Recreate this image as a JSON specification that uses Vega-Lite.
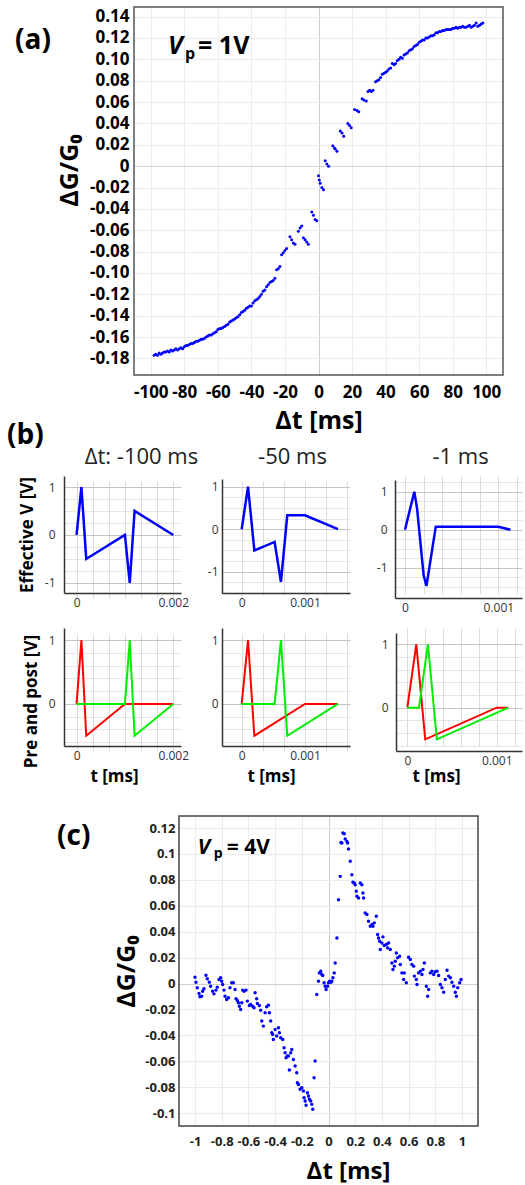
{
  "$schema": "https://vega.github.io/schema/vega-lite/v6.json",
  "autosize": {"type": "none"},
  "padding": {"left": 0, "top": 7, "right": 525, "bottom": 1178},
  "background": "white",
  "config": {
    "view": {"stroke": null},
    "font": "Open Sans",
    "axis": {"labelFont": "Open Sans", "titleFont": "Open Sans", "labelFlush": false, "labelOverlap": false, "ticks": false, "tickSize": 0}
  },
  "datasets": {
    "a": [
      {"t":-98,"g":-0.177},{"t":-97,"g":-0.176},{"t":-96,"g":-0.177},{"t":-95,"g":-0.175},{"t":-94,"g":-0.176},{"t":-93,"g":-0.175},{"t":-92,"g":-0.174},{"t":-91,"g":-0.174},{"t":-90,"g":-0.173},{"t":-89,"g":-0.174},
      {"t":-88,"g":-0.172},{"t":-87,"g":-0.173},{"t":-86,"g":-0.172},{"t":-85,"g":-0.171},{"t":-84,"g":-0.172},{"t":-83,"g":-0.171},{"t":-82,"g":-0.170},{"t":-81,"g":-0.171},{"t":-80,"g":-0.169},{"t":-79,"g":-0.168},
      {"t":-78,"g":-0.168},{"t":-77,"g":-0.167},{"t":-76,"g":-0.166},{"t":-75,"g":-0.166},{"t":-74,"g":-0.165},{"t":-73,"g":-0.164},{"t":-72,"g":-0.164},{"t":-71,"g":-0.163},{"t":-70,"g":-0.162},{"t":-69,"g":-0.162},
      {"t":-68,"g":-0.161},{"t":-67,"g":-0.160},{"t":-66,"g":-0.159},{"t":-65,"g":-0.158},{"t":-64,"g":-0.158},{"t":-63,"g":-0.157},{"t":-62,"g":-0.156},{"t":-61,"g":-0.155},{"t":-60,"g":-0.153},{"t":-59,"g":-0.152},
      {"t":-58,"g":-0.152},{"t":-57,"g":-0.151},{"t":-56,"g":-0.150},{"t":-55,"g":-0.149},{"t":-54,"g":-0.148},{"t":-53,"g":-0.146},{"t":-52,"g":-0.145},{"t":-51,"g":-0.144},{"t":-50,"g":-0.143},{"t":-49,"g":-0.142},
      {"t":-48,"g":-0.141},{"t":-47,"g":-0.139},{"t":-46,"g":-0.137},{"t":-45,"g":-0.136},{"t":-44,"g":-0.135},{"t":-43,"g":-0.133},{"t":-42,"g":-0.132},{"t":-41,"g":-0.131},{"t":-40,"g":-0.131},{"t":-39,"g":-0.128},
      {"t":-38,"g":-0.126},{"t":-37,"g":-0.125},{"t":-36,"g":-0.124},{"t":-35,"g":-0.122},{"t":-34,"g":-0.120},{"t":-33,"g":-0.117},{"t":-32,"g":-0.116},{"t":-31,"g":-0.113},{"t":-30,"g":-0.111},{"t":-29,"g":-0.109},
      {"t":-28,"g":-0.108},{"t":-27,"g":-0.107},{"t":-26,"g":-0.105},{"t":-25,"g":-0.097},{"t":-24,"g":-0.096},{"t":-23,"g":-0.094},{"t":-22,"g":-0.083},{"t":-21,"g":-0.081},{"t":-20,"g":-0.079},{"t":-19,"g":-0.077},
      {"t":-17,"g":-0.066},{"t":-16,"g":-0.069},{"t":-15,"g":-0.072},{"t":-14,"g":-0.073},{"t":-12,"g":-0.061},{"t":-11,"g":-0.058},{"t":-10,"g":-0.056},{"t":-9,"g":-0.067},{"t":-8,"g":-0.069},{"t":-7,"g":-0.071},
      {"t":-6,"g":-0.073},{"t":-4,"g":-0.043},{"t":-3,"g":-0.046},{"t":-2,"g":-0.050},{"t":-1,"g":-0.051},{"t":0,"g":-0.009},{"t":0.5,"g":-0.013},{"t":1,"g":-0.016},{"t":2,"g":-0.020},{"t":3,"g":-0.022},
      {"t":4,"g":0.005},{"t":5,"g":0.002},{"t":6,"g":0.000},{"t":8.5,"g":0.019},{"t":9.5,"g":0.017},{"t":10,"g":0.016},{"t":11,"g":0.014},{"t":13,"g":0.033},{"t":14,"g":0.031},{"t":15,"g":0.028},
      {"t":17.5,"g":0.040},{"t":18.5,"g":0.038},{"t":19.5,"g":0.036},{"t":21.5,"g":0.053},{"t":23,"g":0.052},{"t":24,"g":0.051},{"t":26,"g":0.063},{"t":27,"g":0.062},{"t":28.5,"g":0.061},{"t":29.5,"g":0.070},
      {"t":30.5,"g":0.071},{"t":31.5,"g":0.070},{"t":32.5,"g":0.071},{"t":34,"g":0.079},{"t":35,"g":0.080},{"t":36,"g":0.081},{"t":37,"g":0.083},{"t":38,"g":0.086},{"t":39,"g":0.087},{"t":40,"g":0.088},
      {"t":41,"g":0.089},{"t":42,"g":0.091},{"t":43,"g":0.092},{"t":44,"g":0.096},{"t":45,"g":0.095},{"t":46,"g":0.096},{"t":47,"g":0.099},{"t":48,"g":0.100},{"t":49,"g":0.102},{"t":50,"g":0.101},
      {"t":51,"g":0.104},{"t":52,"g":0.105},{"t":53,"g":0.106},{"t":54,"g":0.108},{"t":55,"g":0.109},{"t":56,"g":0.110},{"t":57,"g":0.112},{"t":58,"g":0.113},{"t":59,"g":0.114},{"t":60,"g":0.116},
      {"t":61,"g":0.117},{"t":62,"g":0.118},{"t":63,"g":0.118},{"t":64,"g":0.120},{"t":65,"g":0.120},{"t":66,"g":0.121},{"t":67,"g":0.122},{"t":68,"g":0.122},{"t":69,"g":0.123},{"t":70,"g":0.125},
      {"t":71,"g":0.125},{"t":72,"g":0.126},{"t":73,"g":0.126},{"t":74,"g":0.127},{"t":75,"g":0.127},{"t":76,"g":0.128},{"t":77,"g":0.128},{"t":78,"g":0.128},{"t":79,"g":0.128},{"t":80,"g":0.129},
      {"t":81,"g":0.129},{"t":82,"g":0.130},{"t":83,"g":0.129},{"t":84,"g":0.130},{"t":85,"g":0.130},{"t":86,"g":0.131},{"t":87,"g":0.130},{"t":88,"g":0.130},{"t":89,"g":0.131},{"t":90,"g":0.132},
      {"t":91,"g":0.130},{"t":92,"g":0.131},{"t":93,"g":0.132},{"t":94,"g":0.134},{"t":95,"g":0.131},{"t":96,"g":0.132},{"t":97,"g":0.133},{"t":98,"g":0.134}
    ],
    "c": [
      {"t":-1.0,"g":0.0049},{"t":-0.993,"g":0.001},{"t":-0.983,"g":-0.0033},{"t":-0.970,"g":-0.0077},{"t":-0.963,"g":-0.0103},{"t":-0.950,"g":-0.0098},{"t":-0.943,"g":-0.0059},{"t":-0.933,"g":-0.0041},{"t":-0.918,"g":0.0064},{"t":-0.908,"g":0.0036},
      {"t":-0.893,"g":0.001},{"t":-0.883,"g":-0.0021},{"t":-0.868,"g":-0.0059},{"t":-0.858,"g":-0.008},{"t":-0.843,"g":-0.0051},{"t":-0.833,"g":-0.0028},{"t":-0.820,"g":0.0031},{"t":-0.808,"g":0.0044},{"t":-0.800,"g":0.0018},{"t":-0.793,"g":-0.0008},
      {"t":-0.783,"g":-0.0051},{"t":-0.775,"g":-0.0098},{"t":-0.763,"g":-0.0123},{"t":-0.750,"g":-0.011},{"t":-0.738,"g":-0.0033},{"t":-0.725,"g":0.0005},{"t":-0.713,"g":0.0005},{"t":-0.700,"g":-0.0046},{"t":-0.693,"g":-0.0118},{"t":-0.683,"g":-0.0131},
      {"t":-0.675,"g":-0.0149},{"t":-0.668,"g":-0.0175},{"t":-0.658,"g":-0.02},{"t":-0.650,"g":-0.0149},{"t":-0.643,"g":-0.0051},{"t":-0.633,"g":-0.0059},{"t":-0.618,"g":-0.0051},{"t":-0.608,"g":-0.0136},{"t":-0.593,"g":-0.017},{"t":-0.583,"g":-0.0162},
      {"t":-0.568,"g":-0.0175},{"t":-0.558,"g":-0.0188},{"t":-0.550,"g":-0.0072},{"t":-0.538,"g":-0.0118},{"t":-0.533,"g":-0.0154},{"t":-0.518,"g":-0.017},{"t":-0.508,"g":-0.0206},{"t":-0.500,"g":-0.029},{"t":-0.488,"g":-0.0329},{"t":-0.475,"g":-0.0226},
      {"t":-0.463,"g":-0.018},{"t":-0.450,"g":-0.0167},{"t":-0.443,"g":-0.0226},{"t":-0.433,"g":-0.029},{"t":-0.425,"g":-0.038},{"t":-0.418,"g":-0.0393},{"t":-0.413,"g":-0.0432},{"t":-0.400,"g":-0.0355},{"t":-0.388,"g":-0.0406},{"t":-0.375,"g":-0.0342},
      {"t":-0.368,"g":-0.038},{"t":-0.358,"g":-0.0419},{"t":-0.343,"g":-0.0432},{"t":-0.333,"g":-0.0496},{"t":-0.325,"g":-0.0534},{"t":-0.318,"g":-0.0573},{"t":-0.308,"g":-0.056},{"t":-0.300,"g":-0.056},{"t":-0.293,"g":-0.0668},{"t":-0.283,"g":-0.0534},
      {"t":-0.275,"g":-0.0509},{"t":-0.263,"g":-0.0586},{"t":-0.250,"g":-0.0637},{"t":-0.238,"g":-0.0689},{"t":-0.233,"g":-0.0766},{"t":-0.225,"g":-0.0779},{"t":-0.213,"g":-0.0817},{"t":-0.200,"g":-0.0804},{"t":-0.188,"g":-0.083},{"t":-0.183,"g":-0.0881},
      {"t":-0.175,"g":-0.0907},{"t":-0.168,"g":-0.094},{"t":-0.158,"g":-0.0843},{"t":-0.150,"g":-0.0868},{"t":-0.143,"g":-0.0894},{"t":-0.133,"g":-0.0907},{"t":-0.125,"g":-0.0933},{"t":-0.118,"g":-0.0971},{"t":-0.108,"g":-0.0727},{"t":-0.100,"g":-0.0599},
      {"t":-0.088,"g":-0.0085},{"t":-0.075,"g":0.0018},{"t":-0.068,"g":0.0082},{"t":-0.058,"g":0.0095},{"t":-0.050,"g":0.0069},{"t":-0.043,"g":0.0062},{"t":-0.033,"g":0.0005},{"t":-0.025,"g":-0.0021},{"t":-0.018,"g":-0.0046},{"t":-0.008,"g":-0.0021},
      {"t":0.0,"g":0.0005},{"t":0.008,"g":0.0018},{"t":0.018,"g":0.001},{"t":0.025,"g":0.0018},{"t":0.033,"g":0.0044},{"t":0.043,"g":0.0082},{"t":0.050,"g":0.0159},{"t":0.063,"g":0.0352},{"t":0.075,"g":0.0647},{"t":0.088,"g":0.0827},
      {"t":0.093,"g":0.1089},{"t":0.100,"g":0.1084},{"t":0.108,"g":0.1161},{"t":0.118,"g":0.1156},{"t":0.125,"g":0.1115},{"t":0.138,"g":0.1097},{"t":0.143,"g":0.1084},{"t":0.150,"g":0.1038},{"t":0.163,"g":0.0943},{"t":0.175,"g":0.084},
      {"t":0.183,"g":0.0781},{"t":0.193,"g":0.0776},{"t":0.200,"g":0.0763},{"t":0.208,"g":0.0712},{"t":0.213,"g":0.0673},{"t":0.225,"g":0.066},{"t":0.238,"g":0.0776},{"t":0.250,"g":0.0763},{"t":0.258,"g":0.0699},{"t":0.263,"g":0.066},
      {"t":0.275,"g":0.0545},{"t":0.288,"g":0.0532},{"t":0.300,"g":0.048},{"t":0.313,"g":0.0442},{"t":0.325,"g":0.0455},{"t":0.333,"g":0.0442},{"t":0.343,"g":0.0468},{"t":0.358,"g":0.0519},{"t":0.368,"g":0.0378},{"t":0.375,"g":0.0352},
      {"t":0.383,"g":0.0326},{"t":0.388,"g":0.0262},{"t":0.400,"g":0.0313},{"t":0.408,"g":0.036},{"t":0.418,"g":0.0293},{"t":0.433,"g":0.0301},{"t":0.443,"g":0.0275},{"t":0.450,"g":0.0313},{"t":0.463,"g":0.0262},{"t":0.475,"g":0.0159},
      {"t":0.483,"g":0.0108},{"t":0.493,"g":0.0134},{"t":0.500,"g":0.0172},{"t":0.508,"g":0.0236},{"t":0.518,"g":0.0198},{"t":0.533,"g":0.0211},{"t":0.538,"g":0.0146},{"t":0.550,"g":0.0082},{"t":0.563,"g":0.0031},{"t":0.568,"g":0.0082},
      {"t":0.583,"g":0.0005},{"t":0.600,"g":0.0203},{"t":0.613,"g":0.0185},{"t":0.625,"g":0.0146},{"t":0.638,"g":0.0134},{"t":0.643,"g":0.0057},{"t":0.658,"g":0.0031},{"t":0.663,"g":-0.0008},{"t":0.675,"g":0.0082},{"t":0.688,"g":0.0095},
      {"t":0.700,"g":0.0069},{"t":0.708,"g":0.0108},{"t":0.718,"g":0.0159},{"t":0.733,"g":-0.0021},{"t":0.743,"g":-0.0098},{"t":0.750,"g":-0.0046},{"t":0.763,"g":0.0082},{"t":0.775,"g":0.0095},{"t":0.788,"g":0.0069},{"t":0.800,"g":0.009},
      {"t":0.813,"g":0.0095},{"t":0.825,"g":0.0062},{"t":0.838,"g":-0.0008},{"t":0.850,"g":-0.0033},{"t":0.863,"g":-0.0067},{"t":0.875,"g":0.0031},{"t":0.888,"g":0.0103},{"t":0.900,"g":0.0057},{"t":0.913,"g":0.0044},{"t":0.925,"g":0.001},
      {"t":0.938,"g":-0.0021},{"t":0.950,"g":-0.0067},{"t":0.958,"g":-0.0098},{"t":0.968,"g":-0.0033},{"t":0.983,"g":0.0005},{"t":0.993,"g":0.0031}
    ],
    "pulses": [
      {"p":"P100","s":"pre","t":0,"v":0},{"p":"P100","s":"pre","t":0.0001,"v":1},{"p":"P100","s":"pre","t":0.0002,"v":-0.5},{"p":"P100","s":"pre","t":0.001,"v":0},{"p":"P100","s":"pre","t":0.002,"v":0},
      {"p":"P100","s":"post","t":0,"v":0},{"p":"P100","s":"post","t":0.001,"v":0},{"p":"P100","s":"post","t":0.0011,"v":1},{"p":"P100","s":"post","t":0.0012,"v":-0.5},{"p":"P100","s":"post","t":0.002,"v":0},
      {"p":"P100","s":"eff","t":0,"v":0},{"p":"P100","s":"eff","t":0.0001,"v":1},{"p":"P100","s":"eff","t":0.0002,"v":-0.5},{"p":"P100","s":"eff","t":0.001,"v":0},{"p":"P100","s":"eff","t":0.0011,"v":-1},{"p":"P100","s":"eff","t":0.0012,"v":0.5},{"p":"P100","s":"eff","t":0.002,"v":0},
      {"p":"P50","s":"pre","t":0,"v":0},{"p":"P50","s":"pre","t":0.0001,"v":1},{"p":"P50","s":"pre","t":0.0002,"v":-0.5},{"p":"P50","s":"pre","t":0.001,"v":0},{"p":"P50","s":"pre","t":0.00152,"v":0},
      {"p":"P50","s":"post","t":0,"v":0},{"p":"P50","s":"post","t":0.00052,"v":0},{"p":"P50","s":"post","t":0.00062,"v":1},{"p":"P50","s":"post","t":0.00072,"v":-0.5},{"p":"P50","s":"post","t":0.00152,"v":0},
      {"p":"P50","s":"eff","t":0,"v":0},{"p":"P50","s":"eff","t":0.0001,"v":1},{"p":"P50","s":"eff","t":0.0002,"v":-0.5},{"p":"P50","s":"eff","t":0.00052,"v":-0.3},{"p":"P50","s":"eff","t":0.00062,"v":-1.24},{"p":"P50","s":"eff","t":0.00072,"v":0.325},{"p":"P50","s":"eff","t":0.001,"v":0.325},{"p":"P50","s":"eff","t":0.00152,"v":0},
      {"p":"P1","s":"pre","t":0,"v":0},{"p":"P1","s":"pre","t":0.0001,"v":1},{"p":"P1","s":"pre","t":0.0002,"v":-0.5},{"p":"P1","s":"pre","t":0.001,"v":0},{"p":"P1","s":"pre","t":0.00113,"v":0},
      {"p":"P1","s":"post","t":0,"v":0},{"p":"P1","s":"post","t":0.00013,"v":0},{"p":"P1","s":"post","t":0.00023,"v":1},{"p":"P1","s":"post","t":0.00033,"v":-0.5},{"p":"P1","s":"post","t":0.00113,"v":0},
      {"p":"P1","s":"eff","t":0,"v":0},{"p":"P1","s":"eff","t":0.0001,"v":1},{"p":"P1","s":"eff","t":0.00013,"v":0.55},{"p":"P1","s":"eff","t":0.0002,"v":-1.2},{"p":"P1","s":"eff","t":0.00023,"v":-1.48},{"p":"P1","s":"eff","t":0.00033,"v":0.08},{"p":"P1","s":"eff","t":0.001,"v":0.08},{"p":"P1","s":"eff","t":0.00113,"v":0}
    ]
  },
  "vconcat": [
    {
      "width": 525, "height": 368,
      "title": {"text": "(a)", "anchor": "start", "frame": "group", "orient": "top", "offset": 0, "dx": 15, "dy": 71, "baseline": "alphabetic", "font": "Open Sans", "fontSize": 28, "fontWeight": "bold", "color": "#000000"},
      "resolve": {"axis": {"x": "independent", "y": "independent"}},
      "layer": [
        {
          "data": {"name": "a"},
          "mark": {"type": "circle", "size": 9, "color": "#0000ff", "opacity": 1},
          "encoding": {
            "x": {"field": "t", "type": "quantitative", "scale": {"domain": [-110, 110], "range": [134, 503], "nice": false, "zero": false},
              "axis": {"orient": "bottom", "values": [-100,-80,-60,-40,-20,0,20,40,60,80,100], "labelExpr": "(datum.value < 0 ? '-' : '') + format(abs(datum.value), 'd')", "labelOverlap": false, "labelFlush": false, "domain": false, "grid": true, "gridColor": {"condition": {"test": "datum.value === 0", "value": "#cccccc"}, "value": "#ececec"}, "labelFontSize": 17, "labelFontWeight": "bold", "labelColor": "#000000", "labelPadding": 9, "title": "Δt [ms]", "titleFontSize": 25, "titleFontWeight": "bold", "titleColor": "#000000", "titleY": 53, "titleBaseline": "alphabetic"}},
            "y": {"field": "g", "type": "quantitative", "scale": {"domain": [-0.1955, 0.149], "nice": false, "zero": false},
              "axis": {"orient": "left", "offset": -134, "values": [-0.18,-0.16,-0.14,-0.12,-0.1,-0.08,-0.06,-0.04,-0.02,0,0.02,0.04,0.06,0.08,0.1,0.12,0.14], "labelExpr": "datum.value === 0 ? '0' : (datum.value < 0 ? '-' : '') + format(abs(datum.value), '.2f')", "labelOverlap": false, "domain": false, "grid": true, "gridColor": {"condition": {"test": "datum.value === 0", "value": "#d4d4d4"}, "value": "#ececec"}, "labelFontSize": 17, "labelFontWeight": "bold", "labelColor": "#000000", "labelPadding": 5, "title": "ΔG/G₀", "titleFontSize": 25, "titleFontWeight": "bold", "titleColor": "#000000", "titlePadding": 7, "titleY": 163}}
          }
        },
        {"data": {"values": [{}]}, "mark": {"type": "rect", "filled": false, "color": "#555555", "strokeWidth": 1.5}, "encoding": {"x": {"datum": -110, "axis": null}, "x2": {"datum": 110}, "y": {"datum": -0.1955, "axis": null}, "y2": {"datum": 0.149}}},
        {"data": {"values": [{}]}, "mark": {"type": "text", "text": "V", "font": "Open Sans", "fontSize": 25, "fontWeight": "bold", "fontStyle": "italic", "align": "left", "baseline": "alphabetic", "color": "#000000"}, "encoding": {"x": {"datum": -89.7, "axis": null}, "y": {"datum": 0.105, "axis": null}}},
        {"data": {"values": [{}]}, "mark": {"type": "text", "text": "p", "font": "Open Sans", "fontSize": 16, "fontWeight": "bold", "align": "left", "baseline": "alphabetic", "dx": 17, "dy": 5, "color": "#000000"}, "encoding": {"x": {"datum": -89.7, "axis": null}, "y": {"datum": 0.105, "axis": null}}},
        {"data": {"values": [{}]}, "mark": {"type": "text", "text": "= 1V", "font": "Open Sans", "fontSize": 25, "fontWeight": "bold", "align": "left", "baseline": "alphabetic", "dx": 30, "color": "#000000"}, "encoding": {"x": {"datum": -89.7, "axis": null}, "y": {"datum": 0.105, "axis": null}}}
      ]
    },
    {"width": 1, "height": 101, "data": {"values": []}, "mark": "point",
     "title": {"text": "(b)", "anchor": "start", "frame": "group", "orient": "top", "offset": 0, "dx": 7, "dy": 97, "baseline": "alphabetic", "font": "Open Sans", "fontSize": 28, "fontWeight": "bold", "color": "#000000"}},
    {
      "width": 525, "height": 122,
      "resolve": {"scale": {"x": "independent", "y": "independent"}, "axis": {"x": "independent", "y": "independent"}},
      "layer": [
        {
          "resolve": {"axis": {"x": "independent", "y": "independent"}},
          "layer": [
            {
              "data": {"name": "pulses"},
              "transform": [{"filter": "datum.p === 'P100' && datum.s === 'eff'"}],
              "mark": {"type": "line", "color": "#0000ff", "strokeWidth": 2.5},
              "encoding": {
                "x": {"field": "t", "type": "quantitative", "scale": {"domain": [-0.00026, 0.00216], "range": [64, 181], "nice": false, "zero": false},
                  "axis": {"orient": "bottom", "offset": -5, "values": [0, 0.000333, 0.000667, 0.001, 0.001333, 0.001667, 0.002], "labelExpr": "datum.value === 0 ? '0' : (datum.value > 0.00199 ? '0.002' : '')", "labelOverlap": false, "labelFlush": false, "domain": true, "domainColor": "#333333", "domainWidth": 1.5, "grid": true, "gridColor": "#dcdcdc", "labelFontSize": 12, "labelColor": "#333333", "labelPadding": 4, "title": null}},
                "y": {"field": "v", "type": "quantitative", "scale": {"domain": [-1.21, 1.23], "range": [117, 0], "nice": false, "zero": false},
                  "axis": {"orient": "left", "offset": -64, "values": [-1,-0.75,-0.5,-0.25,0,0.25,0.5,0.75,1], "labelExpr": "datum.value === 1 ? '1' : datum.value === 0 ? '0' : datum.value === -1 ? '-1' : ''", "labelOverlap": false, "domain": true, "domainColor": "#333333", "domainWidth": 1.5, "grid": true, "gridColor": {"condition": {"test": "datum.value === 1 || datum.value === 0 || datum.value === -1", "value": "#c4c4c4"}, "value": "#e6e6e6"}, "labelFontSize": 12, "labelColor": "#333333", "labelPadding": 9, "title": "Effective V [V]", "titleFontSize": 17, "titleFontWeight": "bold", "titleColor": "#000000", "titlePadding": 8}}
              }
            },
            {"data": {"values": [{}]}, "mark": {"type": "text", "text": "Δt: -100 ms", "font": "Open Sans", "fontSize": 22, "align": "center", "baseline": "alphabetic", "color": "#222222"}, "encoding": {"x": {"datum": 0.001343, "axis": null}, "y": {"datum": 1.48, "axis": null}}}
          ]
        },
        {
          "resolve": {"axis": {"x": "independent", "y": "independent"}},
          "layer": [
            {
              "data": {"name": "pulses"},
              "transform": [{"filter": "datum.p === 'P50' && datum.s === 'eff'"}],
              "mark": {"type": "line", "color": "#0000ff", "strokeWidth": 2.5},
              "encoding": {
                "x": {"field": "t", "type": "quantitative", "scale": {"domain": [-0.000311, 0.001711], "range": [222, 350], "nice": false, "zero": false},
                  "axis": {"orient": "bottom", "offset": -5, "values": [0, 0.000333, 0.000667, 0.001, 0.001333, 0.001667], "labelExpr": "datum.value === 0 ? '0' : (abs(datum.value - 0.001) < 0.00001 ? '0.001' : '')", "labelOverlap": false, "labelFlush": false, "domain": true, "domainColor": "#333333", "domainWidth": 1.5, "grid": true, "gridColor": "#dcdcdc", "labelFontSize": 12, "labelColor": "#333333", "labelPadding": 4, "title": null}},
                "y": {"field": "v", "type": "quantitative", "scale": {"domain": [-1.5, 1.18], "range": [117, 3], "nice": false, "zero": false},
                  "axis": {"orient": "left", "offset": -222, "values": [-1.5,-1.25,-1,-0.75,-0.5,-0.25,0,0.25,0.5,0.75,1], "labelExpr": "datum.value === 1 ? '1' : datum.value === 0 ? '0' : datum.value === -1 ? '-1' : ''", "labelOverlap": false, "domain": true, "domainColor": "#333333", "domainWidth": 1.5, "grid": true, "gridColor": {"condition": {"test": "datum.value === 1 || datum.value === 0 || datum.value === -1", "value": "#c4c4c4"}, "value": "#e6e6e6"}, "labelFontSize": 12, "labelColor": "#333333", "labelPadding": 4, "title": null}}
              }
            },
            {"data": {"values": [{}]}, "mark": {"type": "text", "text": "-50 ms", "font": "Open Sans", "fontSize": 22, "align": "center", "baseline": "alphabetic", "color": "#222222"}, "encoding": {"x": {"datum": 0.000803, "axis": null}, "y": {"datum": 1.533, "axis": null}}}
          ]
        },
        {
          "resolve": {"axis": {"x": "independent", "y": "independent"}},
          "layer": [
            {
              "data": {"name": "pulses"},
              "transform": [{"filter": "datum.p === 'P1' && datum.s === 'eff'"}],
              "mark": {"type": "line", "color": "#0000ff", "strokeWidth": 2.5},
              "encoding": {
                "x": {"field": "t", "type": "quantitative", "scale": {"domain": [-0.000107, 0.001254], "range": [395, 522], "nice": false, "zero": false},
                  "axis": {"orient": "bottom", "values": [0, 0.0002, 0.0004, 0.0006, 0.0008, 0.001, 0.0012], "labelExpr": "datum.value === 0 ? '0' : (abs(datum.value - 0.001) < 0.00001 ? '0.001' : '')", "labelOverlap": false, "labelFlush": false, "domain": true, "domainColor": "#333333", "domainWidth": 1.5, "grid": true, "gridColor": "#dcdcdc", "labelFontSize": 12, "labelColor": "#333333", "labelPadding": 4, "title": null}},
                "y": {"field": "v", "type": "quantitative", "scale": {"domain": [-1.797, 1.308], "range": [122, 4], "nice": false, "zero": false},
                  "axis": {"orient": "left", "offset": -395, "values": [-1.5,-1.25,-1,-0.75,-0.5,-0.25,0,0.25,0.5,0.75,1,1.25], "labelExpr": "datum.value === 1 ? '1' : datum.value === 0 ? '0' : datum.value === -1 ? '-1' : ''", "labelOverlap": false, "domain": true, "domainColor": "#333333", "domainWidth": 1.5, "grid": true, "gridColor": {"condition": {"test": "datum.value === 1 || datum.value === 0 || datum.value === -1", "value": "#c4c4c4"}, "value": "#e6e6e6"}, "labelFontSize": 12, "labelColor": "#333333", "labelPadding": 8, "title": null}}
              }
            },
            {"data": {"values": [{}]}, "mark": {"type": "text", "text": "-1 ms", "font": "Open Sans", "fontSize": 22, "align": "center", "baseline": "alphabetic", "color": "#222222"}, "encoding": {"x": {"datum": 0.000595, "axis": null}, "y": {"datum": 1.729, "axis": null}}}
          ]
        }
      ]
    },
    {"width": 1, "height": 30, "data": {"values": []}, "mark": "point"},
    {
      "width": 525, "height": 123,
      "resolve": {"scale": {"x": "independent", "y": "independent"}, "axis": {"x": "independent", "y": "independent"}},
      "layer": [
        {
          "data": {"name": "pulses"},
          "transform": [{"filter": "datum.p === 'P100'"}],
          "encoding": {
            "x": {"field": "t", "type": "quantitative", "scale": {"domain": [-0.00026, 0.00216], "range": [64, 181], "nice": false, "zero": false},
              "axis": {"orient": "bottom", "offset": -5, "values": [0, 0.000333, 0.000667, 0.001, 0.001333, 0.001667, 0.002], "labelExpr": "datum.value === 0 ? '0' : (datum.value > 0.00199 ? '0.002' : '')", "labelOverlap": false, "labelFlush": false, "domain": true, "domainColor": "#333333", "domainWidth": 1.5, "grid": true, "gridColor": "#dcdcdc", "labelFontSize": 12, "labelColor": "#333333", "labelPadding": 4, "title": "t [ms]", "titleFontSize": 17, "titleFontWeight": "bold", "titleColor": "#000000", "titleX": 114, "titleY": 35, "titleBaseline": "alphabetic"}},
            "y": {"field": "v", "type": "quantitative", "scale": {"domain": [-0.66, 1.19], "range": [118, 0], "nice": false, "zero": false},
              "axis": {"orient": "left", "offset": -64, "values": [-0.6,-0.4,-0.2,0,0.2,0.4,0.6,0.8,1], "labelExpr": "datum.value === 1 ? '1' : datum.value === 0 ? '0' : ''", "labelOverlap": false, "domain": true, "domainColor": "#333333", "domainWidth": 1.5, "grid": true, "gridColor": {"condition": {"test": "datum.value === 1 || datum.value === 0", "value": "#c4c4c4"}, "value": "#e6e6e6"}, "labelFontSize": 12, "labelColor": "#333333", "labelPadding": 9, "title": "Pre and post [V]", "titleFontSize": 17, "titleFontWeight": "bold", "titleColor": "#000000", "titlePadding": 8, "titleY": 73}}
          },
          "layer": [
            {"transform": [{"filter": "datum.s === 'pre'"}], "mark": {"type": "line", "color": "#ff0000", "strokeWidth": 2}},
            {"transform": [{"filter": "datum.s === 'post'"}], "mark": {"type": "line", "color": "#00ee00", "strokeWidth": 2}}
          ]
        },
        {
          "data": {"name": "pulses"},
          "transform": [{"filter": "datum.p === 'P50'"}],
          "encoding": {
            "x": {"field": "t", "type": "quantitative", "scale": {"domain": [-0.000311, 0.001711], "range": [222, 350], "nice": false, "zero": false},
              "axis": {"orient": "bottom", "offset": -5, "values": [0, 0.000333, 0.000667, 0.001, 0.001333, 0.001667], "labelExpr": "datum.value === 0 ? '0' : (abs(datum.value - 0.001) < 0.00001 ? '0.001' : '')", "labelOverlap": false, "labelFlush": false, "domain": true, "domainColor": "#333333", "domainWidth": 1.5, "grid": true, "gridColor": "#dcdcdc", "labelFontSize": 12, "labelColor": "#333333", "labelPadding": 4, "title": "t [ms]", "titleFontSize": 17, "titleFontWeight": "bold", "titleColor": "#000000", "titleX": 271, "titleY": 35, "titleBaseline": "alphabetic"}},
            "y": {"field": "v", "type": "quantitative", "scale": {"domain": [-0.66, 1.19], "range": [118, 0], "nice": false, "zero": false},
              "axis": {"orient": "left", "offset": -222, "values": [-0.6,-0.4,-0.2,0,0.2,0.4,0.6,0.8,1], "labelExpr": "datum.value === 1 ? '1' : datum.value === 0 ? '0' : ''", "labelOverlap": false, "domain": true, "domainColor": "#333333", "domainWidth": 1.5, "grid": true, "gridColor": {"condition": {"test": "datum.value === 1 || datum.value === 0", "value": "#c4c4c4"}, "value": "#e6e6e6"}, "labelFontSize": 12, "labelColor": "#333333", "labelPadding": 4, "title": null}}
          },
          "layer": [
            {"transform": [{"filter": "datum.s === 'pre'"}], "mark": {"type": "line", "color": "#ff0000", "strokeWidth": 2}},
            {"transform": [{"filter": "datum.s === 'post'"}], "mark": {"type": "line", "color": "#00ee00", "strokeWidth": 2}}
          ]
        },
        {
          "data": {"name": "pulses"},
          "transform": [{"filter": "datum.p === 'P1'"}],
          "encoding": {
            "x": {"field": "t", "type": "quantitative", "scale": {"domain": [-0.000127, 0.001283], "range": [396, 522], "nice": false, "zero": false},
              "axis": {"orient": "bottom", "values": [0, 0.0002, 0.0004, 0.0006, 0.0008, 0.001, 0.0012], "labelExpr": "datum.value === 0 ? '0' : (abs(datum.value - 0.001) < 0.00001 ? '0.001' : '')", "labelOverlap": false, "labelFlush": false, "domain": true, "domainColor": "#333333", "domainWidth": 1.5, "grid": true, "gridColor": "#dcdcdc", "labelFontSize": 12, "labelColor": "#333333", "labelPadding": 4, "title": "t [ms]", "titleFontSize": 17, "titleFontWeight": "bold", "titleColor": "#000000", "titleX": 436, "titleY": 30, "titleBaseline": "alphabetic"}},
            "y": {"field": "v", "type": "quantitative", "scale": {"domain": [-0.683, 1.178], "range": [123, 5], "nice": false, "zero": false},
              "axis": {"orient": "left", "offset": -396, "values": [-0.6,-0.4,-0.2,0,0.2,0.4,0.6,0.8,1], "labelExpr": "datum.value === 1 ? '1' : datum.value === 0 ? '0' : ''", "labelOverlap": false, "domain": true, "domainColor": "#333333", "domainWidth": 1.5, "grid": true, "gridColor": {"condition": {"test": "datum.value === 1 || datum.value === 0", "value": "#c4c4c4"}, "value": "#e6e6e6"}, "labelFontSize": 12, "labelColor": "#333333", "labelPadding": 8, "title": null}}
          },
          "layer": [
            {"transform": [{"filter": "datum.s === 'pre'"}], "mark": {"type": "line", "color": "#ff0000", "strokeWidth": 2}},
            {"transform": [{"filter": "datum.s === 'post'"}], "mark": {"type": "line", "color": "#00ee00", "strokeWidth": 2}}
          ]
        }
      ]
    },
    {"width": 1, "height": 65, "data": {"values": []}, "mark": "point"},
    {
      "width": 525, "height": 310,
      "resolve": {"axis": {"x": "independent", "y": "independent"}},
      "layer": [
        {
          "data": {"name": "c"},
          "mark": {"type": "circle", "size": 12, "color": "#0000ff", "opacity": 1},
          "encoding": {
            "x": {"field": "t", "type": "quantitative", "scale": {"domain": [-1.12, 1.12], "range": [179, 478], "nice": false, "zero": false},
              "axis": {"orient": "bottom", "values": [-1,-0.8,-0.6,-0.4,-0.2,0,0.2,0.4,0.6,0.8,1], "labelExpr": "(datum.value < 0 ? '-' : '') + format(abs(datum.value), '~g')", "labelOverlap": false, "labelFlush": false, "domain": false, "grid": true, "gridColor": {"condition": {"test": "datum.value === 0", "value": "#cfcfcf"}, "value": "#ebebeb"}, "labelFontSize": 13, "labelFontWeight": "bold", "labelColor": "#222222", "labelPadding": 9, "title": "Δt [ms]", "titleFontSize": 24, "titleFontWeight": "bold", "titleColor": "#000000", "titleX": 348, "titleY": 52, "titleBaseline": "alphabetic"}},
            "y": {"field": "g", "type": "quantitative", "scale": {"domain": [-0.11, 0.1293], "nice": false, "zero": false},
              "axis": {"orient": "left", "offset": -179, "values": [-0.1,-0.08,-0.06,-0.04,-0.02,0,0.02,0.04,0.06,0.08,0.1,0.12], "labelExpr": "(datum.value < 0 ? '-' : '') + format(abs(datum.value), '~g')", "labelOverlap": false, "domain": false, "grid": true, "gridColor": {"condition": {"test": "datum.value === 0", "value": "#cfcfcf"}, "value": "#ebebeb"}, "labelFontSize": 13, "labelFontWeight": "bold", "labelColor": "#222222", "labelPadding": 4, "title": "ΔG/G₀", "titleFontSize": 25, "titleFontWeight": "bold", "titleColor": "#000000", "titlePadding": 5}}
          }
        },
        {"data": {"values": [{}]}, "mark": {"type": "rect", "filled": false, "color": "#444444", "strokeWidth": 1.5}, "encoding": {"x": {"datum": -1.12, "axis": null}, "x2": {"datum": 1.12}, "y": {"datum": -0.11, "axis": null}, "y2": {"datum": 0.1293}}},
        {"data": {"values": [{}]}, "mark": {"type": "text", "text": "(c)", "font": "Open Sans", "fontSize": 28, "fontWeight": "bold", "align": "left", "baseline": "alphabetic", "color": "#000000"}, "encoding": {"x": {"datum": -2.034, "axis": null}, "y": {"datum": 0.1069, "axis": null}}},
        {"data": {"values": [{}]}, "mark": {"type": "text", "text": "V", "font": "Open Sans", "fontSize": 21, "fontWeight": "bold", "fontStyle": "italic", "align": "left", "baseline": "alphabetic", "color": "#000000"}, "encoding": {"x": {"datum": -0.98, "axis": null}, "y": {"datum": 0.0996, "axis": null}}},
        {"data": {"values": [{}]}, "mark": {"type": "text", "text": "p", "font": "Open Sans", "fontSize": 14, "fontWeight": "bold", "align": "left", "baseline": "alphabetic", "dx": 16, "dy": 4, "color": "#000000"}, "encoding": {"x": {"datum": -0.98, "axis": null}, "y": {"datum": 0.0996, "axis": null}}},
        {"data": {"values": [{}]}, "mark": {"type": "text", "text": "= 4V", "font": "Open Sans", "fontSize": 21, "fontWeight": "bold", "align": "left", "baseline": "alphabetic", "dx": 29, "color": "#000000"}, "encoding": {"x": {"datum": -0.98, "axis": null}, "y": {"datum": 0.0996, "axis": null}}}
      ]
    }
  ],
  "spacing": 0,
  "bounds": "flush"
}
